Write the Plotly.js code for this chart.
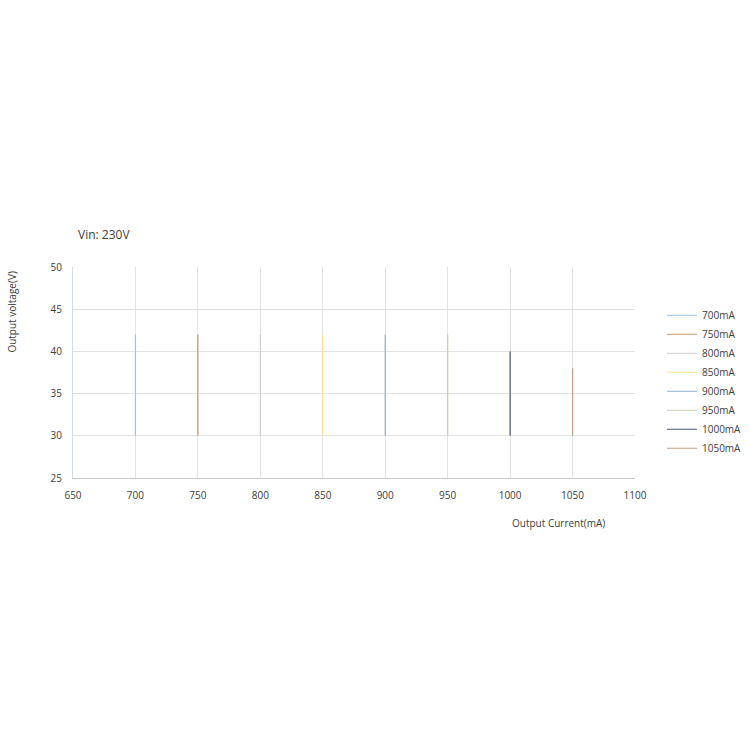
<!DOCTYPE html>
<html>
<head>
<meta charset="utf-8">
<script src="https://cdn.plot.ly/plotly-3.0.1.min.js"></script>
<style>
    html, body { margin: 0; padding: 0; background: #fff; }
    #chart { width: 750px; height: 750px; }
</style>
</head>
<body>
<div id="chart"></div>
<script>
    'use strict';

    // Output current of each curve (mA) and its voltage span (V)
    const seriesNames = ['700mA', '750mA', '800mA', '850mA', '900mA', '950mA', '1000mA', '1050mA'];
    const currents = [700, 750, 800, 850, 900, 950, 1000, 1050];
    const voltMin = [30, 30, 30, 30, 30, 30, 30, 30];
    const voltMax = [42, 42, 42, 42, 42, 42, 40, 38];
    const seriesColors = ['#9dc3e6', '#c49a6c', '#d0d0d0', '#ffe38a',
        '#8fb0c4', '#c9cfb2', '#4a5a70', '#c0a08a'];

    const xTicks = [650, 700, 750, 800, 850, 900, 950, 1000, 1050, 1100];
    const yTicks = [25, 30, 35, 40, 45, 50];

    const FONT = '"Open Sans", "Liberation Sans", sans-serif';

    let data = seriesNames.map((name, i) => ({
        type: 'scatter',
        mode: 'lines',
        name: name,
        x: [currents[i], currents[i]],
        y: [voltMin[i], voltMax[i]],
        line: {color: seriesColors[i], width: 1.2},
        hoverinfo: 'x+y+name'
    }));

    let layout = {
        width: 750,
        height: 750,
        margin: {l: 73, r: 115, t: 267, b: 272, autoexpand: false},
        paper_bgcolor: '#ffffff',
        plot_bgcolor: '#ffffff',
        font: {family: FONT, size: 10, color: '#404040'},
        showlegend: true,
        legend: {
            x: 1.048, xanchor: 'left',
            y: 0.84, yanchor: 'top',
            font: {family: FONT, size: 10, color: '#404040'},
            tracegroupgap: 0,
            itemwidth: 30
        },
        xaxis: {
            range: [650, 1100],
            tickvals: xTicks,
            ticktext: xTicks.map(String),
            showgrid: true,
            gridcolor: '#e3e3e3',
            gridwidth: 1,
            showline: true,
            linecolor: '#c8c8c8',
            linewidth: 1,
            zeroline: false,
            ticks: 'outside',
            ticklen: 8,
            tickcolor: 'rgba(0,0,0,0)',
            tickfont: {size: 10, color: '#404040'},
            fixedrange: true
        },
        yaxis: {
            range: [25, 50],
            tickvals: yTicks,
            ticktext: yTicks.map(String),
            showgrid: true,
            gridcolor: '#e3e3e3',
            gridwidth: 1,
            showline: true,
            linecolor: '#d4dde6',
            linewidth: 1,
            zeroline: false,
            ticks: 'outside',
            ticklen: 8,
            tickcolor: 'rgba(0,0,0,0)',
            tickfont: {size: 10, color: '#404040'},
            fixedrange: true
        },
        annotations: [
            {
                text: 'Vin: 230V', xref: 'paper', yref: 'paper',
                x: 0.005, y: 1.155, xanchor: 'left', yanchor: 'middle',
                showarrow: false, font: {size: 12, color: '#404040'}
            },
            {
                text: 'Output voltage(V)', xref: 'paper', yref: 'paper',
                x: -0.108, y: 0.79, xanchor: 'center', yanchor: 'middle',
                textangle: -90, showarrow: false, font: {size: 10, color: '#404040'}
            },
            {
                text: 'Output Current(mA)', xref: 'paper', yref: 'paper',
                x: 0.863, y: -0.215, xanchor: 'center', yanchor: 'middle',
                showarrow: false, font: {size: 10, color: '#404040'}
            }
        ]
    };

    Plotly.newPlot('chart', data, layout, {displayModeBar: false, staticPlot: true});
</script>
</body>
</html>
